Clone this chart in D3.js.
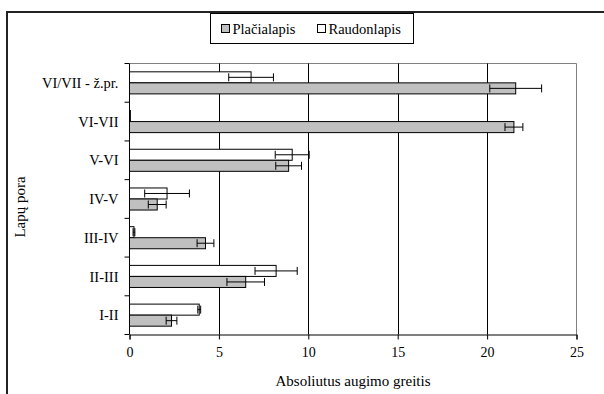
<!DOCTYPE html>
<html><head><meta charset="utf-8">
<script src="https://cdn.jsdelivr.net/npm/d3@7"></script>
<style>
html,body{margin:0;padding:0;background:#fff;}
svg{display:block;font-family:"Liberation Serif","Times New Roman",serif;}
</style></head>
<body><svg id="c" width="604" height="394"></svg>
<script>
const categories = ["VI/VII - ž.pr.", "VI-VII", "V-VI", "IV-V", "III-IV", "II-III", "I-II"];
const seriesNames = ["Plačialapis", "Raudonlapis"];
const placialapis = [21.6, 21.5, 8.9, 1.55, 4.25, 6.5, 2.35];
const placialapisErr = [1.45, 0.5, 0.72, 0.5, 0.47, 1.05, 0.3];
const raudonlapis = [6.8, 0.05, 9.1, 2.1, 0.25, 8.2, 3.9];
const raudonlapisErr = [1.25, 0, 0.95, 1.25, 0.05, 1.18, 0.08];
const xTicks = [0, 5, 10, 15, 20, 25];
const colors = ["#c0c0c0", "#ffffff"];

const svg = d3.select("#c");
const L = 129.5, R = 576.5, T = 63.5, B = 334.5;
const FONT = "Liberation Serif";

// outer frame
svg.append("path").attr("d", "M7,394 V12 H604").attr("fill","none").attr("stroke","#222").attr("stroke-width",2);

const x = d3.scaleLinear().domain([0, 25]).range([L, R]);
const y = d3.scaleBand().domain(categories).range([T, B]).paddingInner(0.43).paddingOuter(0.215);

// plot border top/right gray
svg.append("path").attr("d", `M${L},${T} H${R} V${B}`).attr("fill","none").attr("stroke","#808080").attr("stroke-width",1);

// gridlines
svg.append("g").selectAll("line").data(xTicks.filter(d => d > 0 && d < 25)).join("line")
  .attr("x1", d => Math.round(x(d)) + 0.5).attr("x2", d => Math.round(x(d)) + 0.5)
  .attr("y1", T).attr("y2", B).attr("stroke", "#000").attr("stroke-width", 1);

// bars
const bh = y.bandwidth() / 2;
const rows = categories.map((c, i) => ({c, i}));
const series = [
  {vals: raudonlapis, errs: raudonlapisErr, off: 0, fill: colors[1]},
  {vals: placialapis, errs: placialapisErr, off: 1, fill: colors[0]}
];
series.forEach(s => {
  const g = svg.append("g");
  g.selectAll("rect").data(rows).join("rect")
    .attr("x", x(0)).attr("y", d => y(d.c) + s.off * bh)
    .attr("width", d => x(s.vals[d.i]) - x(0)).attr("height", bh)
    .attr("fill", s.fill).attr("stroke", "#000").attr("stroke-width", 1);
  const eg = svg.append("g").attr("stroke", "#000").attr("stroke-width", 1);
  rows.forEach(d => {
    const e = s.errs[d.i]; if (!e) return;
    const cy = y(d.c) + s.off * bh + bh / 2;
    const x1 = x(s.vals[d.i] - e), x2 = x(s.vals[d.i] + e);
    eg.append("line").attr("x1", x1).attr("x2", x2).attr("y1", cy).attr("y2", cy);
    eg.append("line").attr("x1", x1).attr("x2", x1).attr("y1", cy - 4).attr("y2", cy + 4);
    eg.append("line").attr("x1", x2).attr("x2", x2).attr("y1", cy - 4).attr("y2", cy + 4);
  });
});

// x axis
const xa = svg.append("g").attr("transform", `translate(0,${B})`)
  .call(d3.axisBottom(x).tickValues(xTicks).tickSize(5).tickPadding(8));
xa.select(".domain").attr("stroke", "#000");
xa.selectAll("text").attr("font-size", 14).attr("font-family", FONT).attr("fill", "#000");

// y axis with ticks at band boundaries
const ya = svg.append("g").attr("transform", `translate(${L},0)`);
ya.append("line").attr("x1", 0).attr("x2", 0).attr("y1", T).attr("y2", B).attr("stroke", "#000");
const bounds = d3.range(categories.length + 1).map(i => T + i * (B - T) / categories.length);
ya.selectAll("line.tk").data(bounds).join("line").attr("class","tk")
  .attr("x1", -5).attr("x2", 0).attr("y1", d => d).attr("y2", d => d).attr("stroke", "#000");
ya.selectAll("text").data(categories).join("text")
  .attr("x", -11).attr("y", d => y(d) + y.bandwidth() / 2).attr("dy", "0.35em")
  .attr("text-anchor", "end").attr("font-size", 14.5).attr("font-family", FONT).text(d => d);

// axis titles
svg.append("text").attr("x", (L + R) / 2).attr("y", 386).attr("text-anchor", "middle")
  .attr("font-size", 15).attr("font-family", FONT).text("Absoliutus augimo greitis");
svg.append("text").attr("transform", "translate(25,207) rotate(-90)").attr("text-anchor", "middle")
  .attr("font-size", 15).attr("font-family", FONT).text("Lapų pora");

// legend
const lg = svg.append("g");
lg.append("rect").attr("x", 210.5).attr("y", 13.5).attr("width", 203).attr("height", 30)
  .attr("fill", "#fff").attr("stroke", "#000");
const items = [{n: seriesNames[0], c: colors[0], x: 221.5}, {n: seriesNames[1], c: colors[1], x: 317.5}];
items.forEach(it => {
  lg.append("rect").attr("x", it.x).attr("y", 24.5).attr("width", 8).attr("height", 8)
    .attr("fill", it.c).attr("stroke", "#000");
  lg.append("text").attr("x", it.x + 11).attr("y", 33.5).attr("font-size", 14.5).attr("font-family", FONT).text(it.n);
});
</script></body></html>
